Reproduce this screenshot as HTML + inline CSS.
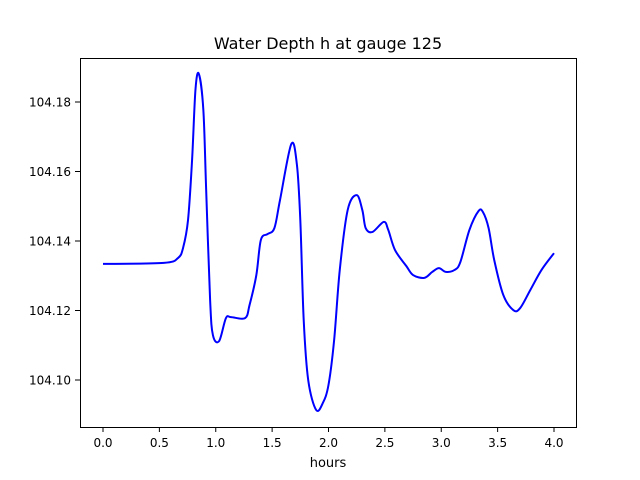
<!DOCTYPE html>
<html><head><meta charset="utf-8"><style>
body{margin:0;background:#fff;}
svg{display:block;font-family:"DejaVu Sans","Liberation Sans",sans-serif;}
</style></head><body>
<svg id="chart" width="640" height="480">
<rect width="640" height="480" fill="#fff"/>
<text x="328" y="49" text-anchor="middle" font-size="16">Water Depth h at gauge 125</text>
<text x="328" y="467" text-anchor="middle" font-size="13">hours</text>
<g id="ticks"></g>
<path id="line" fill="none" stroke="#0000ff" stroke-width="2"/>
<rect x="80.5" y="58.5" width="496" height="369" fill="none" stroke="#000" stroke-width="1"/>
</svg>
<script>
const times=[0,0.54,0.665,0.71,0.754,0.79,0.82,0.85,0.89,0.915,0.95,0.975,1.03,1.09,1.135,1.26,1.3,1.36,1.40,1.46,1.52,1.57,1.67,1.72,1.75,1.78,1.82,1.89,1.95,2.0,2.05,2.1,2.17,2.25,2.3,2.33,2.39,2.49,2.53,2.59,2.69,2.75,2.85,2.92,2.98,3.04,3.12,3.17,3.25,3.33,3.37,3.42,3.47,3.55,3.64,3.70,3.79,3.89,4.0];
const depths=[104.1334,104.1337,104.1351,104.1380,104.1460,104.1633,104.1835,104.1881,104.1777,104.1547,104.1230,104.1129,104.1112,104.1178,104.1181,104.1178,104.1216,104.1302,104.1403,104.1420,104.1437,104.1518,104.1679,104.1619,104.1460,104.1173,104.1000,104.0914,104.0934,104.0986,104.1115,104.1317,104.1489,104.1532,104.1489,104.1437,104.1426,104.1455,104.1432,104.1374,104.1328,104.1302,104.1294,104.1311,104.1322,104.1311,104.1317,104.1340,104.1432,104.1486,104.1483,104.1437,104.1345,104.1245,104.1201,104.1207,104.1259,104.1317,104.1365];
const xTicks=[0,0.5,1,1.5,2,2.5,3,3.5,4];
const xTickLabels=["0.0","0.5","1.0","1.5","2.0","2.5","3.0","3.5","4.0"];
const yTicks=[104.10,104.12,104.14,104.16,104.18];
const yTickLabels=["104.10","104.12","104.14","104.16","104.18"];
const xs=t=>103+t*112.75;
const ys=v=>380-(v-104.10)*3475;
const NS="http://www.w3.org/2000/svg";
const g=document.getElementById('ticks');
xTicks.forEach((t,i)=>{
  const l=document.createElementNS(NS,'line');
  l.setAttribute('x1',xs(t));l.setAttribute('x2',xs(t));l.setAttribute('y1',427);l.setAttribute('y2',432);l.setAttribute('stroke','#000');
  
  
  g.appendChild(l);
  const tx=document.createElementNS(NS,'text');
  tx.setAttribute('x',xs(t));tx.setAttribute('y',447);tx.setAttribute('text-anchor','middle');tx.setAttribute('font-size','12');
  tx.textContent=xTickLabels[i];
  
  
  g.appendChild(tx);
});
yTicks.forEach((v,i)=>{
  const l=document.createElementNS(NS,'line');
  l.setAttribute('x1',75);l.setAttribute('x2',80);l.setAttribute('y1',ys(v));l.setAttribute('y2',ys(v));l.setAttribute('stroke','#000');
  
  
  g.appendChild(l);
  const tx=document.createElementNS(NS,'text');
  tx.setAttribute('x',71);tx.setAttribute('y',ys(v)+4.5);tx.setAttribute('text-anchor','end');tx.setAttribute('font-size','12');
  tx.textContent=yTickLabels[i];
  
  
  g.appendChild(tx);
});
const P=times.map((t,i)=>[xs(t),ys(depths[i])]);
let d=`M${P[0][0]},${P[0][1]}`;
for(let i=0;i<P.length-1;i++){
  const p0=P[Math.max(0,i-1)],p1=P[i],p2=P[i+1],p3=P[Math.min(P.length-1,i+2)];
  const c1=[p1[0]+(p2[0]-p0[0])/6,p1[1]+(p2[1]-p0[1])/6];
  const c2=[p2[0]-(p3[0]-p1[0])/6,p2[1]-(p3[1]-p1[1])/6];
  d+=` C${c1[0]},${c1[1]} ${c2[0]},${c2[1]} ${p2[0]},${p2[1]}`;
}
document.getElementById('line').setAttribute('d',d);
</script>
</body></html>
